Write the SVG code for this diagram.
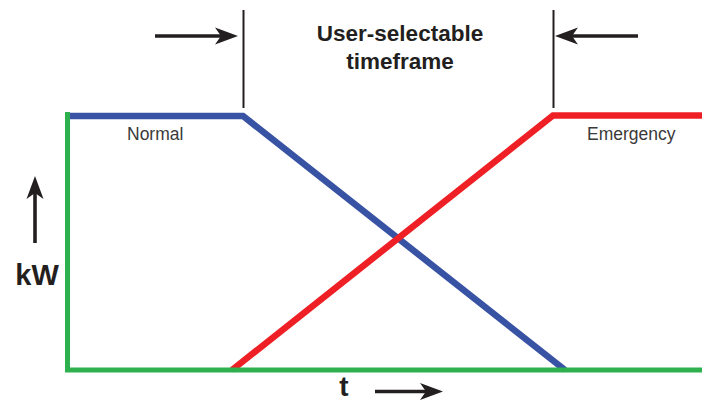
<svg xmlns="http://www.w3.org/2000/svg" width="702" height="402" viewBox="0 0 702 402">
  <style>
    .curve { fill: none; stroke-linejoin: miter; stroke-linecap: butt; }
    .blue { stroke: #3953a4; stroke-width: 6.5; }
    .red { stroke: #ee2026; stroke-width: 6.5; }
    .axis { fill: none; stroke: #2eb04f; stroke-width: 5; stroke-linejoin: miter; stroke-linecap: butt; }
    .tick { stroke: #231f20; stroke-width: 2; }
    .arrow { stroke: #231f20; stroke-width: 3.6; fill: none; marker-end: url(#head); }
    .title { font-family: "Liberation Sans", Arial, sans-serif; font-weight: bold; font-size: 22.5px; fill: #231f20; text-anchor: middle; }
    .axislabel { font-family: "Liberation Sans", Arial, sans-serif; font-weight: bold; font-size: 29px; fill: #231f20; text-anchor: middle; }
    .tlabel { font-size: 28px; }
    .label { font-family: "Liberation Sans", Arial, sans-serif; font-size: 17.5px; fill: #3a3a3a; }
  </style>
  <defs>
    <marker id="head" markerUnits="userSpaceOnUse" viewBox="-24 -10 26 20" markerWidth="26" markerHeight="20" refX="-12" refY="0" orient="auto">
      <path d="M0,0 L-23,-8.5 L-17,0 L-23,8.5 Z" fill="#231f20"/>
    </marker>
  </defs>
  <rect width="702" height="402" fill="#ffffff"/>

  <g id="normal-curve">
    <path class="curve blue" d="M70,116 H243 L565,370"/>
    <text class="label" x="127" y="140">Normal</text>
  </g>
  <g id="emergency-curve">
    <path class="curve red" d="M232,370 L553,115.5 H702"/>
    <text class="label" x="587" y="140">Emergency</text>
  </g>
  <g id="axes">
    <path class="axis" d="M67.5,112 V370 H702"/>
  </g>

  <g id="timeframe">
    <line class="tick" x1="243.5" y1="10" x2="243.5" y2="108"/>
    <line class="tick" x1="553.5" y1="10" x2="553.5" y2="108"/>
    <text class="title" x="400" y="41">User-selectable</text>
    <text class="title" x="400" y="69">timeframe</text>
  </g>

  <g id="kw-label">
    <text class="axislabel" x="37" y="285">kW</text>
  </g>
  <g id="t-label">
    <text class="axislabel tlabel" x="344" y="396">t</text>
  </g>

  <g id="connectors">
    <line class="arrow" x1="155" y1="36" x2="226" y2="36"/>
    <line class="arrow" x1="638" y1="36" x2="567" y2="36"/>
    <line class="arrow" x1="35" y1="243" x2="35" y2="188"/>
    <line class="arrow" x1="375" y1="391.5" x2="431" y2="391.5"/>
  </g>
</svg>
